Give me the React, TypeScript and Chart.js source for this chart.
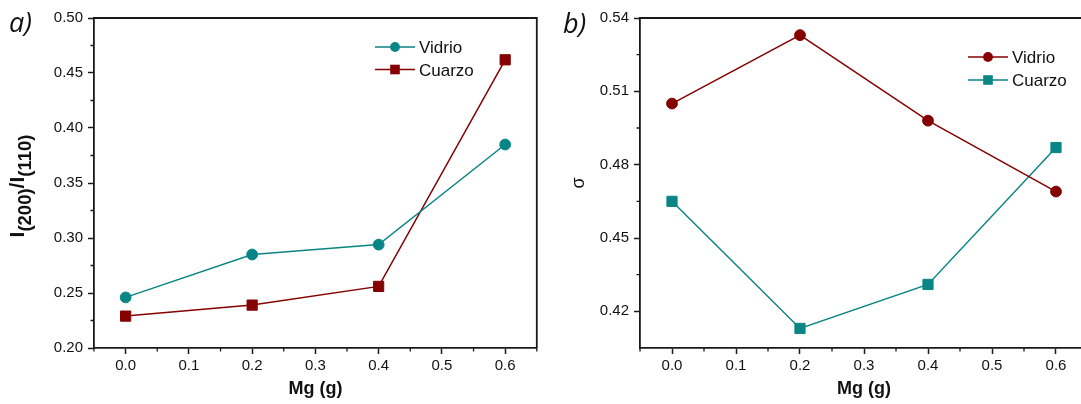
import React, { useEffect, useRef } from "react";
import { Chart, registerables } from "chart.js";

Chart.register(...registerables);

// Magnesium loading (g)
const mgValues = [0, 0.2, 0.4, 0.6];

// Panel a) texture ratio I(200)/I(110)
const ratioVidrio = [0.246, 0.285, 0.294, 0.385];
const ratioCuarzo = [0.229, 0.239, 0.256, 0.462];

// Panel b) sigma
const sigmaVidrio = [0.505, 0.533, 0.498, 0.469];
const sigmaCuarzo = [0.465, 0.413, 0.431, 0.487];

// Tick values
const mgTicks = [0, 0.1, 0.2, 0.3, 0.4, 0.5, 0.6];
const mgMinorTicks = [-0.05, 0.05, 0.15, 0.25, 0.35, 0.45, 0.55, 0.65];
const ratioTicks = [0.2, 0.25, 0.3, 0.35, 0.4, 0.45, 0.5];
const ratioMinorTicks = [0.225, 0.275, 0.325, 0.375, 0.425, 0.475];
const sigmaTicks = [0.42, 0.45, 0.48, 0.51, 0.54];
const sigmaMinorTicks = [0.435, 0.465, 0.495, 0.525];

const seriesNames = ["Vidrio", "Cuarzo"];

const TEAL = "#0a8585";
const DARK_RED = "#850000";
const AXIS = "#1a1a1a";
const SANS = '"Liberation Sans", Arial, sans-serif';

const toPoints = (ys: number[]) => mgValues.map((x, i) => ({ x, y: ys[i] }));

type Run = { text: string; sub: boolean };

// Draws the box frame, minor ticks, panel tag, legend and an optional
// rotated y title with subscripts.
const panelDecor = {
  id: "panelDecor",
  afterDraw(chart: any, _args: any, opts: any) {
    const { ctx, chartArea: a, scales } = chart;
    ctx.save();

    // top and right frame lines
    ctx.strokeStyle = AXIS;
    ctx.lineWidth = 1.8;
    ctx.beginPath();
    ctx.moveTo(a.left, a.top);
    ctx.lineTo(a.right, a.top);
    ctx.lineTo(a.right, a.bottom);
    ctx.stroke();

    // minor ticks
    ctx.lineWidth = 1.3;
    ctx.beginPath();
    for (const v of opts.xMinor) {
      const px = scales.x.getPixelForValue(v);
      ctx.moveTo(px, a.bottom);
      ctx.lineTo(px, a.bottom + 3.5);
    }
    for (const v of opts.yMinor) {
      const py = scales.y.getPixelForValue(v);
      ctx.moveTo(a.left, py);
      ctx.lineTo(a.left - 3.5, py);
    }
    ctx.stroke();

    // panel tag
    ctx.fillStyle = "#111";
    ctx.font = 'italic 27px "Open Sans", "Liberation Sans", sans-serif';
    ctx.textAlign = "left";
    ctx.textBaseline = "alphabetic";
    ctx.fillText(opts.tag, opts.tagX, opts.tagY);

    // legend
    const lg = opts.legend;
    chart.data.datasets.forEach((ds: any, i: number) => {
      const y = lg.y + i * lg.gap;
      ctx.strokeStyle = ds.borderColor;
      ctx.lineWidth = 1.5;
      ctx.beginPath();
      ctx.moveTo(lg.x, y);
      ctx.lineTo(lg.x + 40, y);
      ctx.stroke();
      ctx.fillStyle = ds.borderColor;
      const cx = lg.x + 20;
      if (ds.pointStyle === "rect") {
        ctx.fillRect(cx - 4.8, y - 4.8, 9.6, 9.6);
      } else {
        ctx.beginPath();
        ctx.arc(cx, y, 4.9, 0, Math.PI * 2);
        ctx.fill();
      }
      ctx.fillStyle = "#111";
      ctx.font = `17px ${SANS}`;
      ctx.fillText(ds.label, lg.x + 44, y + 6);
    });

    // rotated y title with subscripts
    if (opts.yTitle) {
      const t = opts.yTitle;
      const runs: Run[] = t.runs;
      const mainFont = `bold ${t.mainSize}px ${SANS}`;
      const subFont = `bold ${t.subSize}px ${SANS}`;
      let total = 0;
      for (const r of runs) {
        ctx.font = r.sub ? subFont : mainFont;
        total += ctx.measureText(r.text).width;
      }
      ctx.translate(t.x, t.y);
      ctx.rotate(-Math.PI / 2);
      ctx.fillStyle = "#111";
      let x = -total / 2;
      for (const r of runs) {
        ctx.font = r.sub ? subFont : mainFont;
        ctx.fillText(r.text, x, r.sub ? t.subShift : 0);
        x += ctx.measureText(r.text).width;
      }
    }

    ctx.restore();
  },
};

function makeConfig(p: {
  vidrio: number[];
  cuarzo: number[];
  vidrioColor: string;
  cuarzoColor: string;
  yMin: number;
  yMax: number;
  yTicks: number[];
  yMinor: number[];
  yWidth: number;
  yTitle: string | null;
  yTitleRuns: Run[] | null;
  padRight: number;
  tag: string;
  tagX: number;
  tagY: number;
  legend: { x: number; y: number; gap: number };
}): any {
  const dataset = (label: string, ys: number[], color: string, style: string, radius: number) => ({
    label,
    data: toPoints(ys),
    borderColor: color,
    backgroundColor: color,
    pointBackgroundColor: color,
    pointBorderColor: color,
    borderWidth: 1.5,
    pointStyle: style,
    pointRadius: radius,
    pointBorderWidth: 1,
    tension: 0,
  });
  return {
    type: "line",
    data: {
      datasets: [
        dataset(seriesNames[0], p.vidrio, p.vidrioColor, "circle", 5.4),
        dataset(seriesNames[1], p.cuarzo, p.cuarzoColor, "rect", 7.2),
      ],
    },
    plugins: [panelDecor],
    options: {
      responsive: false,
      animation: false,
      devicePixelRatio: 1,
      layout: { padding: { left: 0, top: 18, right: p.padRight, bottom: 0 } },
      plugins: {
        legend: { display: false },
        tooltip: { enabled: false },
        panelDecor: {
          xMinor: mgMinorTicks,
          yMinor: p.yMinor,
          tag: p.tag,
          tagX: p.tagX,
          tagY: p.tagY,
          legend: p.legend,
          yTitle: p.yTitleRuns
            ? { runs: p.yTitleRuns, mainSize: 21, subSize: 18.5, subShift: 7, x: 24, y: 186 }
            : null,
        },
      },
      scales: {
        x: {
          type: "linear",
          min: -0.05,
          max: 0.65,
          afterBuildTicks: (s: any) => {
            s.ticks = mgTicks.map((v) => ({ value: v }));
          },
          afterFit: (s: any) => {
            s.height = 56;
          },
          ticks: {
            color: "#111",
            font: { family: SANS, size: 15 },
            padding: 3,
            maxRotation: 0,
            callback: (v: any) => Number(v).toFixed(1),
          },
          grid: {
            display: true,
            drawOnChartArea: false,
            drawTicks: true,
            tickLength: 6,
            tickColor: AXIS,
            tickWidth: 1.5,
          },
          border: { display: true, color: AXIS, width: 1.8 },
          title: {
            display: true,
            text: "Mg (g)",
            color: "#111",
            font: { family: SANS, size: 18, weight: "bold" },
            padding: { top: 0, bottom: 4 },
          },
        },
        y: {
          type: "linear",
          min: p.yMin,
          max: p.yMax,
          afterBuildTicks: (s: any) => {
            s.ticks = p.yTicks.map((v) => ({ value: v }));
          },
          afterFit: (s: any) => {
            s.width = p.yWidth;
          },
          ticks: {
            color: "#111",
            font: { family: SANS, size: 15 },
            padding: 5,
            callback: (v: any) => Number(v).toFixed(2),
          },
          grid: {
            display: true,
            drawOnChartArea: false,
            drawTicks: true,
            tickLength: 6,
            tickColor: AXIS,
            tickWidth: 1.5,
          },
          border: { display: true, color: AXIS, width: 1.8 },
          title: {
            display: !!p.yTitle,
            text: p.yTitle || "",
            color: "#111",
            font: { family: SANS, size: 18 },
            padding: { top: 23, bottom: 0 },
          },
        },
      },
    },
  };
}

function Panel(props: { left: number; width: number; build: () => any }) {
  const ref = useRef<HTMLCanvasElement>(null);
  useEffect(() => {
    const chart = new Chart(ref.current as HTMLCanvasElement, props.build());
    return () => chart.destroy();
  }, []);
  return (
    <canvas
      ref={ref}
      width={props.width}
      height={404}
      style={{ position: "absolute", left: props.left, top: 0, width: props.width, height: 404 }}
    />
  );
}

export default function App() {
  const buildA = () =>
    makeConfig({
      vidrio: ratioVidrio,
      cuarzo: ratioCuarzo,
      vidrioColor: TEAL,
      cuarzoColor: DARK_RED,
      yMin: 0.2,
      yMax: 0.5,
      yTicks: ratioTicks,
      yMinor: ratioMinorTicks,
      yWidth: 94,
      yTitle: null,
      yTitleRuns: [
        { text: "I", sub: false },
        { text: "(200)", sub: true },
        { text: "/I", sub: false },
        { text: "(110)", sub: true },
      ],
      padRight: 5,
      tag: "a)",
      tagX: 9,
      tagY: 32,
      legend: { x: 375, y: 47, gap: 22.5 },
    });
  const buildB = () =>
    makeConfig({
      vidrio: sigmaVidrio,
      cuarzo: sigmaCuarzo,
      vidrioColor: DARK_RED,
      cuarzoColor: TEAL,
      yMin: 0.405,
      yMax: 0.54,
      yTicks: sigmaTicks,
      yMinor: sigmaMinorTicks,
      yWidth: 95,
      yTitle: "σ",
      yTitleRuns: null,
      padRight: 17,
      tag: "b)",
      tagX: 18,
      tagY: 33,
      legend: { x: 423, y: 57, gap: 23 },
    });
  return (
    <div
      style={{
        position: "absolute",
        left: 0,
        top: 0,
        width: 1081,
        height: 404,
        overflow: "hidden",
        background: "#fff",
      }}
    >
      <Panel left={0} width={545} build={buildA} />
      <Panel left={545} width={560} build={buildB} />
    </div>
  );
}
